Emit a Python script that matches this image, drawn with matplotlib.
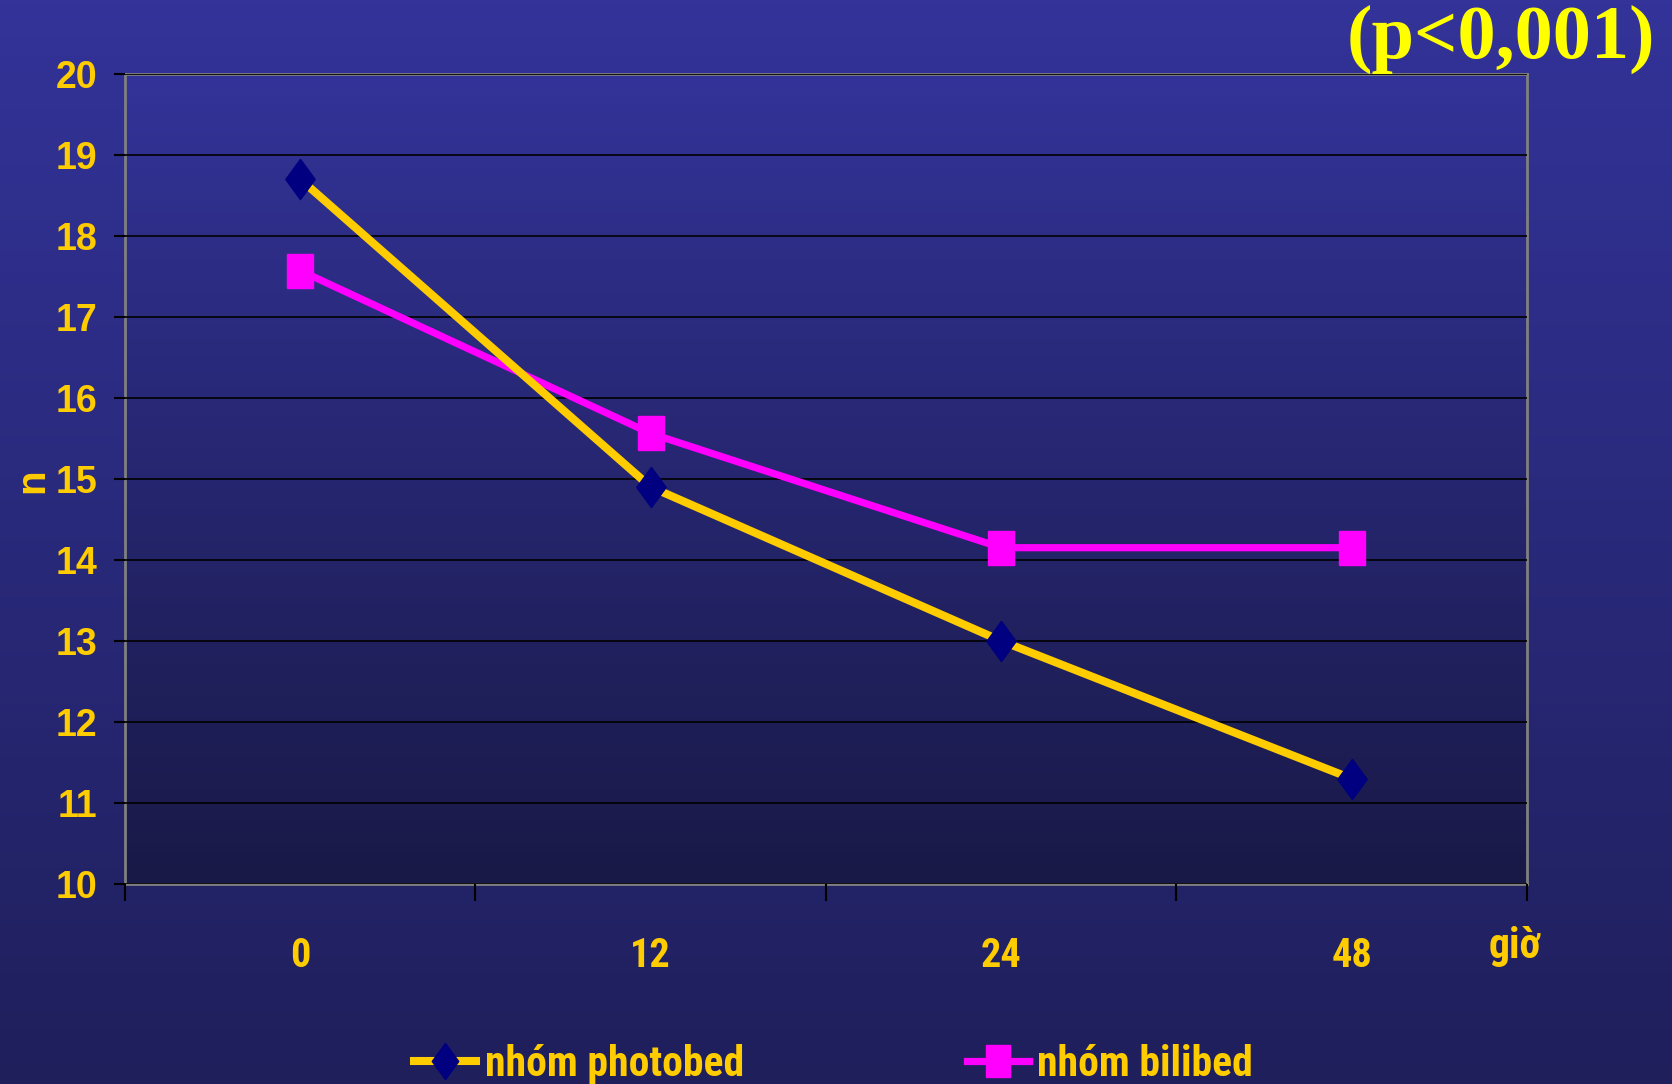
import numpy as np
import matplotlib.pyplot as plt
from matplotlib.colors import LinearSegmentedColormap

# hours after start of phototherapy
hours = ['0', '12', '24', '48']
photobed = [18.7, 14.9, 13.0, 11.3]
bilibed = [17.57, 15.56, 14.15, 14.15]
series_names = ['nhóm photobed', 'nhóm bilibed']
p_text = '(p<0,001)'

gold = '#FFCC00'
narrow = ['Roboto Condensed', 'Liberation Sans Narrow', 'Liberation Sans']

fig = plt.figure(figsize=(16.72, 10.84), dpi=100)

# slide background: vertical blue gradient
bg = fig.add_axes([0, 0, 1, 1], zorder=-10)
bg_cmap = LinearSegmentedColormap.from_list('bg', ['#333399', '#1f1f5c'])
bg.imshow(np.linspace(0, 1, 256).reshape(-1, 1), aspect='auto', cmap=bg_cmap,
          extent=[0, 1, 0, 1], origin='upper')
bg.axis('off')

ax = fig.add_axes([0.0746, 0.1845, 0.8387, 0.7476])
x = np.arange(len(hours))

# plot area gradient
pa_cmap = LinearSegmentedColormap.from_list('pa', ['#333399', '#191947'])
ax.imshow(np.linspace(0, 1, 256).reshape(-1, 1), aspect='auto', cmap=pa_cmap,
          extent=[0, 1, 0, 1], origin='upper', transform=ax.transAxes, zorder=0)

diamond = [(0, 1), (0.73, 0), (0, -1), (-0.73, 0), (0, 1)]
rect = [(-0.76, -1), (0.76, -1), (0.76, 1), (-0.76, 1), (-0.76, -1)]

ax.plot(x, photobed, color=gold, lw=5.8, marker=diamond, markersize=29,
        markerfacecolor='#000080', markeredgecolor='#000080',
        label=series_names[0], zorder=4)
ax.plot(x, bilibed, color='#FF00FF', lw=5.2, marker=rect, markersize=25,
        markerfacecolor='#FF00FF', markeredgecolor='#FF00FF',
        label=series_names[1], zorder=3)

ax.set_xlim(-0.5, len(hours) - 0.5)
ax.set_ylim(10, 20)
ax.set_yticks(range(10, 21))
ax.grid(axis='y', color='black', lw=1.2, zorder=1)
ax.set_axisbelow(False)

# ticks between categories, labels centred on categories
ax.set_xticks(np.arange(-0.5, len(hours), 1.0))
ax.set_xticklabels([])
ax.set_xticks(x, minor=True)
ax.set_xticklabels(hours, minor=True, fontsize=29, fontweight='bold',
                   color=gold, family=narrow)
ax.tick_params(axis='x', which='major', direction='out', length=12,
               width=1.5, color='black')
ax.tick_params(axis='x', which='minor', length=0, pad=38)
ax.tick_params(axis='y', direction='out', length=8, width=1.5, color='black',
               labelsize=27, labelcolor=gold, pad=11.5)
for lab in ax.get_yticklabels():
    lab.set_fontweight('bold')
    lab.set_family(['Liberation Sans', 'DejaVu Sans'])

for s in ax.spines.values():
    s.set_color('#808080')
    s.set_linewidth(2)

fig.text(0.019, 0.557, 'n', fontsize=29, fontweight='bold', color=gold,
         family=['Liberation Sans'], rotation=90, ha='center', va='center')

fig.text(0.906, 0.127, 'giờ', fontsize=30, fontweight='bold', color=gold,
         family=narrow, ha='center', va='center')

fig.text(0.990, 0.964, p_text, fontsize=55, fontweight='bold', color='#FFFF00',
         family=['Liberation Serif', 'DejaVu Serif'], ha='right', va='center')

ax.legend(loc='center', bbox_to_anchor=(0.4985, 0.018), bbox_transform=fig.transFigure,
          ncol=2, frameon=False, handlelength=1.5, handletextpad=0.2,
          columnspacing=5.35, prop={'family': narrow, 'weight': 'bold', 'size': 30},
          labelcolor=gold, markerscale=0.9)

fig.savefig('out.png', dpi=100)
